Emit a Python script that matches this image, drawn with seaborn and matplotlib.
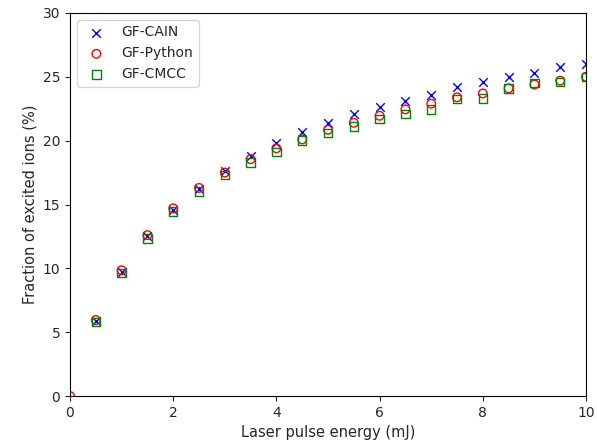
import matplotlib
matplotlib.use("Agg")
import matplotlib.pyplot as plt
import seaborn as sns
import numpy as np
import pandas as pd

energy_cain = [0.5, 1.0, 1.5, 2.0, 2.5, 3.0, 3.5, 4.0, 4.5, 5.0, 5.5, 6.0, 6.5, 7.0, 7.5, 8.0, 8.5, 9.0, 9.5, 10.0]
cain = [5.9, 9.75, 12.5, 14.6, 16.2, 17.6, 18.8, 19.85, 20.7, 21.4, 22.05, 22.6, 23.1, 23.6, 24.2, 24.6, 24.95, 25.3, 25.75, 26.0]

energy_python = [0.0, 0.5, 1.0, 1.5, 2.0, 2.5, 3.0, 3.5, 4.0, 4.5, 5.0, 5.5, 6.0, 6.5, 7.0, 7.5, 8.0, 8.5, 9.0, 9.5, 10.0]
python_vals = [0.0, 5.95, 9.85, 12.6, 14.7, 16.3, 17.5, 18.55, 19.4, 20.1, 20.85, 21.4, 21.95, 22.45, 22.9, 23.4, 23.7, 24.1, 24.4, 24.7, 25.0]

energy_cmcc = [0.5, 1.0, 1.5, 2.0, 2.5, 3.0, 3.5, 4.0, 4.5, 5.0, 5.5, 6.0, 6.5, 7.0, 7.5, 8.0, 8.5, 9.0, 9.5, 10.0]
cmcc = [5.8, 9.65, 12.35, 14.45, 16.0, 17.3, 18.3, 19.1, 20.0, 20.6, 21.1, 21.7, 22.1, 22.45, 23.25, 23.3, 24.1, 24.5, 24.6, 25.0]

labels = ["GF-CAIN", "GF-Python", "GF-CMCC"]

sns.set_style("ticks")
plt.rcParams['font.family'] = ['DejaVu Sans']

fig = plt.figure(figsize=(5.97, 4.42), dpi=100)
ax = fig.add_axes([70/597, 1 - 396/442, (586-70)/597, (396-13)/442])

sns.scatterplot(x=energy_cain, y=cain, ax=ax, marker='x', color='blue', s=38,
                linewidth=1.0, label=labels[0], clip_on=True)
sns.scatterplot(x=energy_python, y=python_vals, ax=ax, marker='o', facecolors='none',
                edgecolor='red', s=38, linewidth=1.0, label=labels[1], clip_on=True)
sns.scatterplot(x=energy_cmcc, y=cmcc, ax=ax, marker='s', facecolors='none',
                edgecolor='green', s=38, linewidth=1.0, label=labels[2], clip_on=True)

ax.set_xlim(0, 10)
ax.set_ylim(0, 30)
ax.set_xticks([0, 2, 4, 6, 8, 10])
ax.set_yticks([0, 5, 10, 15, 20, 25, 30])
ax.set_xlabel("Laser pulse energy (mJ)", fontsize=10.5)
ax.set_ylabel("Fraction of excited ions (%)", fontsize=10.5)
ax.tick_params(labelsize=10)
for sp in ax.spines.values():
    sp.set_visible(True)
    sp.set_color('black')
leg = ax.legend(loc='upper left', fontsize=10, frameon=True)

fig.savefig("out.png", dpi=100)
